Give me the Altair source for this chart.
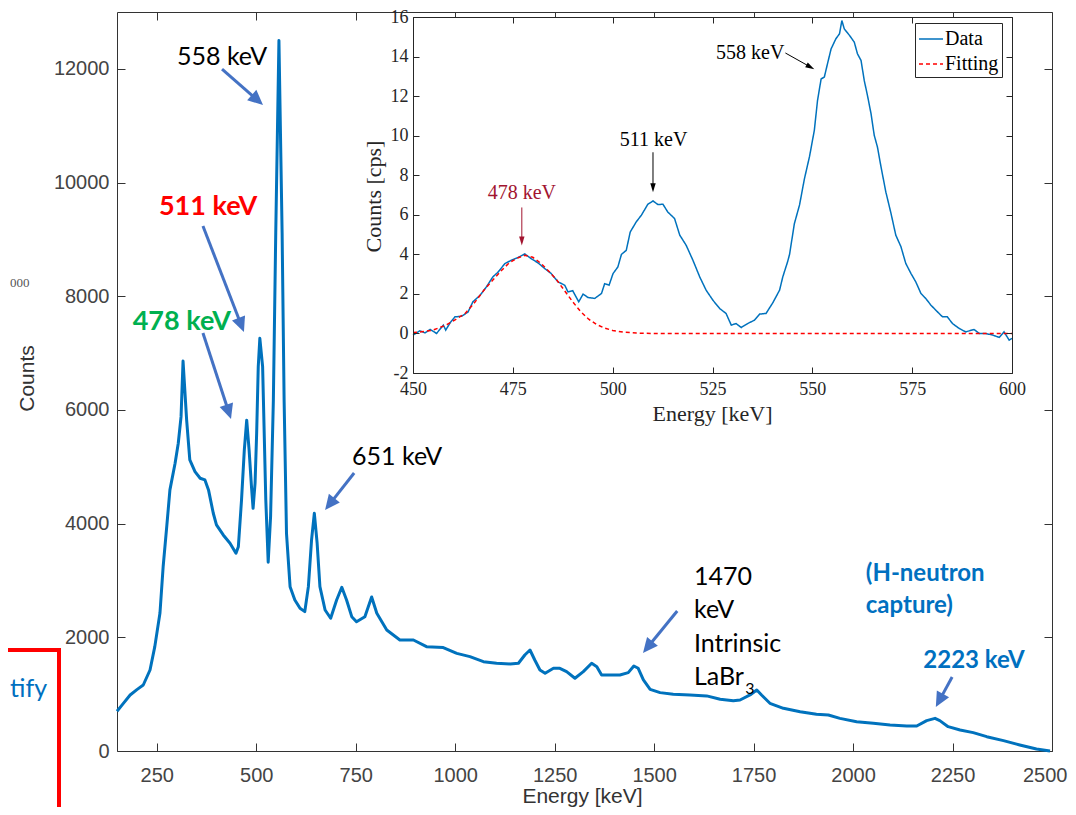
import math
import altair as alt
import pandas as pd

# ---------------- main spectrum ----------------
main_energy = [150, 165, 183, 200, 216, 233, 245, 258, 266, 275, 283, 296, 304, 311, 316,
               325, 333, 346, 359, 371, 380, 392, 400, 417, 434, 449, 455, 463, 470, 476,
               482, 488, 492, 497, 501, 505, 509, 516, 518, 524, 530, 536, 541, 543, 549,
               557, 565, 570, 576, 585, 597, 610, 622, 631, 639, 646, 653, 660, 673, 687,
               702, 715, 727, 740, 752, 773, 790, 803, 828, 861, 895, 928, 970, 1004, 1037,
               1071, 1104, 1138, 1159, 1175, 1188, 1200, 1213, 1226, 1247, 1263, 1280, 1301,
               1322, 1343, 1356, 1368, 1389, 1414, 1435, 1449, 1460, 1473, 1490, 1515, 1548,
               1590, 1632, 1666, 1699, 1716, 1741, 1758, 1770, 1791, 1825, 1867, 1908, 1938,
               1967, 2009, 2051, 2093, 2135, 2160, 2185, 2206, 2218, 2239, 2269, 2302, 2336,
               2378, 2419, 2461, 2495]
main_counts = [700, 830, 985, 1080, 1161, 1425, 1836, 2428, 3243, 3947, 4593, 5062, 5414, 5882, 6860,
               5824, 5120, 4915, 4798, 4768, 4593, 4182, 3977, 3801, 3655, 3479, 3595, 4417, 5297, 5820,
               5297, 4651, 4270, 4710, 5590, 6760, 7260, 6760, 6176, 4417, 3320, 4123, 5590, 6176, 9115,
               12500, 9115, 6176, 3830, 2891, 2657, 2511, 2452, 2891, 3713, 4182, 3655, 2891, 2481, 2335,
               2657, 2880, 2657, 2363, 2275, 2363, 2710, 2423, 2129, 1953, 1953, 1836, 1820, 1718, 1660,
               1572, 1543, 1531, 1543, 1689, 1777, 1601, 1425, 1367, 1455, 1455, 1396, 1279,
               1396, 1543, 1484, 1338, 1338, 1338, 1379, 1496, 1455, 1250, 1085, 1027, 998,
               986, 969, 910, 886, 897, 986, 1074, 986, 839, 751, 692, 645, 633,
               574, 516, 487, 457, 440, 440, 534, 574, 534, 428, 370, 323, 252,
               182, 106, 35, 0]
main_x_domain = [150, 2500]
main_y_domain = [0, 13000]
main_xticks = [250, 500, 750, 1000, 1250, 1500, 1750, 2000, 2250, 2500]
main_yticks = [0, 2000, 4000, 6000, 8000, 10000, 12000]

# ---------------- inset (zoom 450-600 keV) ----------------
inset_energy = [450.0, 451.7, 453.0, 454.3, 455.9, 457.6, 458.2, 459.3, 460.5, 462.2,
                463.8, 465.0, 466.8, 468.4, 470.0, 471.3, 473.0, 474.6, 476.3, 478.0,
                479.6, 481.3, 483.0, 484.6, 486.3, 488.0, 488.8, 490.0, 491.5, 492.6,
                493.8, 495.5, 497.2, 498.0, 499.1, 500.1, 501.3, 502.2, 503.4, 504.4,
                505.9, 507.2, 508.8, 510.1, 511.3, 512.6, 513.8, 515.5, 516.8, 518.4,
                520.1, 521.8, 523.4, 525.1, 526.8, 528.4, 529.7, 530.9, 532.2, 533.8,
                535.5, 536.8, 538.4, 540.1, 541.8, 542.6, 543.8, 544.3, 545.5, 546.8,
                548.0, 549.3, 550.5, 551.3, 552.2, 553.0, 553.8, 554.7, 555.9, 556.8,
                557.4, 558.0, 559.3, 560.5, 561.3, 562.2, 563.0, 563.8, 564.7, 565.5,
                566.3, 567.2, 568.4, 569.7, 570.9, 572.2, 573.4, 574.7, 575.9, 577.2,
                578.4, 579.7, 580.9, 582.6, 583.8, 585.1, 586.8, 588.4, 590.5, 591.8,
                593.4, 595.1, 596.8, 598.0, 599.3, 600.0]
inset_cps = [-0.09, 0.13, 0.03, 0.2, 0.0, 0.42, 0.17, 0.54, 0.84, 0.87,
             1.09, 1.6, 1.93, 2.36, 2.86, 3.1, 3.53, 3.7, 3.84, 4.02,
             3.78, 3.57, 3.28, 3.03, 2.61, 2.44, 2.1, 2.16, 1.6, 1.99,
             1.82, 1.77, 2.02, 2.52, 2.44, 3.03, 3.36, 4.0, 4.2, 5.13,
             5.64, 5.98, 6.53, 6.7, 6.52, 6.53, 6.14, 5.81, 4.97, 4.46,
             3.7, 2.86, 2.19, 1.68, 1.26, 1.01, 0.42, 0.5, 0.3, 0.5,
             0.67, 0.98, 1.01, 1.55, 2.19, 2.86, 3.62, 4.0, 5.55, 6.5,
             7.8, 8.95, 10.27, 11.78, 12.87, 12.96, 13.64, 14.39, 14.9, 15.15,
             15.82, 15.4, 15.07, 14.73, 14.14, 13.8, 12.79, 12.04, 11.11, 10.02,
             9.43, 8.42, 7.16, 6.07, 4.97, 4.38, 3.54, 3.03, 2.61, 2.02,
             1.77, 1.43, 1.18, 0.84, 0.84, 0.5, 0.25, 0.08, 0.2, 0.0,
             0.0, -0.08, -0.2, 0.08, -0.34, -0.25]
fit_energy = [450, 452, 455, 458, 460, 463, 465, 468, 470, 472, 474, 476, 478, 480, 482,
              484, 486, 488, 490, 492, 494, 496, 498, 500, 503, 506, 510, 530, 560, 600]
fit_cps = [0.05, 0.08, 0.17, 0.4, 0.62, 1.0, 1.45, 2.25, 2.7, 3.15, 3.55, 3.8, 3.95, 3.85, 3.55,
           3.15, 2.7, 2.15, 1.6, 1.1, 0.72, 0.45, 0.27, 0.15, 0.06, 0.02, 0.0, 0.0, 0.0, 0.0]
inset_x_domain = [450, 600]
inset_y_domain = [-2, 16]
inset_xticks = [450, 475, 500, 525, 550, 575, 600]
inset_yticks = [-2, 0, 2, 4, 6, 8, 10, 12, 14, 16]
legend_labels = ["Data", "Fitting"]

# ---------------- annotations (data coordinates) ----------------
main_center_text = ["558 keV", "651 keV"]
main_center_x = [414, 854]
main_center_y = [12068, 5031]
main_left_text = ["1470", "keV", "Intrinsic", "LaBr"]
main_left_x = [1600, 1600, 1600, 1600]
main_left_y = [2920, 2340, 1742, 1161]
sub_text, sub_x, sub_y = ["3"], [1729], [1000]
red_text, red_x, red_y = ["511 keV"], [379], [9429]
green_text, green_x, green_y = ["478 keV"], [313], [7406]
blue_left_text = ["(H-neutron", "capture)"]
blue_left_x = [2032, 2032]
blue_left_y = [2991, 2428]
blue_center_text, blue_center_x, blue_center_y = ["2223 keV"], [2304], [1460]

main_arrow_tail_x = [414, 366, 366, 746, 1558, 2249]
main_arrow_tail_y = [11997, 9235, 7353, 4890, 2463, 1302]
main_arrow_tip_x = [517, 469, 436.5, 673, 1472, 2208]
main_arrow_tip_y = [11364, 7371, 5840, 4240, 1724, 774]

inset_label_text = ["478 keV", "511 keV", "558 keV"]
inset_label_x = [477.25, 510.25, 543.0]
inset_label_y = [6.82, 9.5, 13.88]
inset_arrow_tail_x = [477.25, 510.1, 543.25]
inset_arrow_tail_y = [6.37, 9.16, 14.18]
inset_arrow_tip_x = [477.25, 510.1, 550.5]
inset_arrow_tip_y = [4.45, 7.14, 13.36]
inset_arrow_color = ["#A2142F", "#000000", "#000000"]

# ---------------- layout ----------------
W, H = 935, 739
INS_X_RANGE = [296, 895]
INS_Y_RANGE = [361, 5]
AXC = "#333333"
INC = "#262626"

main_x = alt.Scale(domain=main_x_domain, nice=False, zero=False)
main_y = alt.Scale(domain=main_y_domain, nice=False, zero=False)
ins_x = alt.Scale(domain=inset_x_domain, range=INS_X_RANGE, nice=False, zero=False)
ins_y = alt.Scale(domain=inset_y_domain, range=INS_Y_RANGE, nice=False, zero=False)

kx_main = W / (main_x_domain[1] - main_x_domain[0])
ky_main = H / (main_y_domain[1] - main_y_domain[0])
kx_ins = (INS_X_RANGE[1] - INS_X_RANGE[0]) / (inset_x_domain[1] - inset_x_domain[0])
ky_ins = (INS_Y_RANGE[0] - INS_Y_RANGE[1]) / (inset_y_domain[1] - inset_y_domain[0])


def tick_axis(orient, offset, values, size, color, domain, z):
    return alt.Axis(orient=orient, offset=offset, values=values, grid=False, ticks=True,
                    tickSize=size, tickColor=color, tickWidth=1, domain=domain,
                    domainColor=color, domainWidth=1, labels=False, title=None, zindex=z)


def text_layer(labels, xs, ys, xs_scale, ys_scale, **mk):
    df = pd.DataFrame({"t": labels, "x": xs, "y": ys})
    return alt.Chart(df).mark_text(baseline="alphabetic", **mk).encode(
        x=alt.X("x:Q", scale=xs_scale, axis=None),
        y=alt.Y("y:Q", scale=ys_scale, axis=None),
        text="t:N")


def arrow_layers(tx, ty, px, py, cols, xs_scale, ys_scale, kx, ky, head_len, shape, width):
    rows = []
    for a, b, c, d, col in zip(tx, ty, px, py, cols):
        dx = (c - a) * kx
        dy = -(d - b) * ky
        L = math.hypot(dx, dy)
        ux, uy = dx / L, dy / L
        rows.append(dict(x0=a, y0=b,
                         x1=c - 0.75 * head_len * ux / kx, y1=d + 0.75 * head_len * uy / ky,
                         hx=c - 0.5 * head_len * ux / kx, hy=d + 0.5 * head_len * uy / ky,
                         ang=math.degrees(math.atan2(ux, -uy)) % 360, col=col))
    df = pd.DataFrame(rows)
    shaft = alt.Chart(df).mark_rule(strokeWidth=width).encode(
        x=alt.X("x0:Q", scale=xs_scale, axis=None),
        y=alt.Y("y0:Q", scale=ys_scale, axis=None),
        x2="x1:Q", y2="y1:Q",
        stroke=alt.Stroke("col:N", scale=None))
    head = alt.Chart(df).mark_point(shape=shape, filled=True, size=head_len ** 2,
                                    opacity=1, strokeWidth=0).encode(
        x=alt.X("hx:Q", scale=xs_scale, axis=None),
        y=alt.Y("hy:Q", scale=ys_scale, axis=None),
        angle=alt.Angle("ang:Q", scale=None),
        fill=alt.Fill("col:N", scale=None))
    return [shaft, head]


main_df = pd.DataFrame({"E": main_energy, "C": main_counts})
ins_df = pd.DataFrame({"E": inset_energy, "V": inset_cps, "series": legend_labels[0]})
fit_df = pd.DataFrame({"E": fit_energy, "V": fit_cps, "series": legend_labels[1]})

layers = []

# ---------------- main panel ----------------
ax_main_bottom = alt.Axis(orient="bottom", values=main_xticks, format="d", grid=False, ticks=False,
                          tickSize=0, domain=True, domainColor=AXC, domainWidth=1,
                          labelFont="Liberation Sans", labelFontSize=20, labelColor="#444444",
                          labelPadding=14, labelFlush=True, labelFlushOffset=15,
                          labelOverlap=False, labelBound=False,
                          title="Energy [keV]", titleFont="Liberation Sans", titleFontSize=21,
                          titleFontWeight="normal", titleColor="#333333", titleX=465, titleY=45,
                          titleAlign="center", titleBaseline="middle", zindex=0)
ax_main_left = alt.Axis(orient="left", values=main_yticks, format="d", grid=False, ticks=False,
                        tickSize=0, domain=True, domainColor=AXC, domainWidth=1,
                        labelFont="Liberation Sans", labelFontSize=20, labelColor="#444444",
                        labelPadding=8, labelOverlap=False, labelBound=False, labelFlush=False,
                        title="Counts", titleFont="Liberation Sans", titleFontSize=21,
                        titleFontWeight="normal", titleColor="#333333", titleAngle=270,
                        titleX=-90, titleY=366, titleAlign="center", titleBaseline="middle", zindex=0)

layers.append(alt.Chart(main_df).mark_line(color="#0072BD", strokeWidth=3, strokeJoin="round").encode(
    x=alt.X("E:Q", scale=main_x, axis=ax_main_bottom),
    y=alt.Y("C:Q", scale=main_y, axis=ax_main_left)))
layers.append(alt.Chart(main_df).mark_line(opacity=0).encode(
    x=alt.X("E:Q", scale=main_x, axis=tick_axis("top", -H, main_xticks, 8, AXC, False, 0)),
    y=alt.Y("C:Q", scale=main_y, axis=tick_axis("right", -W, main_yticks, 8, AXC, False, 0))))
layers.append(alt.Chart(main_df).mark_line(opacity=0).encode(
    x=alt.X("E:Q", scale=main_x, axis=tick_axis("bottom", -H, main_xticks, 8, AXC, True, 0)),
    y=alt.Y("C:Q", scale=main_y, axis=tick_axis("left", -W, main_yticks, 8, AXC, True, 0))))

layers.append(text_layer(main_center_text, main_center_x, main_center_y, main_x, main_y,
                         align="center", font="Lato", fontSize=25, color="#000000"))
layers.append(text_layer(main_left_text, main_left_x, main_left_y, main_x, main_y,
                         align="left", font="Lato", fontSize=25, color="#000000"))
layers.append(text_layer(sub_text, sub_x, sub_y, main_x, main_y,
                         align="left", font="Lato", fontSize=16, color="#000000"))
layers.append(text_layer(red_text, red_x, red_y, main_x, main_y, align="center", font="Lato",
                         fontSize=27, fontWeight="bold", color="#FF0000"))
layers.append(text_layer(green_text, green_x, green_y, main_x, main_y, align="center",
                         font="Lato", fontSize=27, fontWeight="bold", color="#00B050"))
layers.append(text_layer(blue_left_text, blue_left_x, blue_left_y, main_x, main_y,
                         align="left", font="Lato", fontSize=24, fontWeight="bold",
                         color="#0070C0"))
layers.append(text_layer(blue_center_text, blue_center_x, blue_center_y, main_x, main_y,
                         align="center", font="Lato", fontSize=24, fontWeight="bold",
                         color="#0070C0"))
layers += arrow_layers(main_arrow_tail_x, main_arrow_tail_y, main_arrow_tip_x, main_arrow_tip_y,
                       ["#4472C4"] * len(main_arrow_tail_x), main_x, main_y, kx_main, ky_main,
                       15, "M0,-1L-0.93,1L0.93,1Z", 3)

# ---------------- inset panel ----------------
bg_df = pd.DataFrame({"x0": [inset_x_domain[0]], "x1": [inset_x_domain[1]],
                      "y0": [inset_y_domain[0]], "y1": [inset_y_domain[1]]})
layers.append(alt.Chart(bg_df).mark_rect(color="white").encode(
    x=alt.X("x0:Q", scale=ins_x, axis=None), x2="x1:Q",
    y=alt.Y("y0:Q", scale=ins_y, axis=None), y2="y1:Q"))

leg = alt.Legend(title=None, orient="none", legendX=798, legendY=11, symbolType="stroke",
                 symbolSize=576, symbolStrokeWidth=1.5, labelFont="Liberation Serif",
                 labelFontSize=20, labelColor="#000000", strokeColor=INC, fillColor="white",
                 padding=3, rowPadding=2, labelOffset=1, zindex=2)
col_scale = alt.Scale(domain=legend_labels, range=["#0072BD", "#FF0000"])
dash_scale = alt.Scale(domain=legend_labels, range=[[1, 0], [4, 3]])

ax_ins_bottom = alt.Axis(orient="bottom", offset=INS_Y_RANGE[0] - H, values=inset_xticks, format="d",
                         grid=False, ticks=False, tickSize=0, domain=True, domainColor=INC,
                         domainWidth=1, labelFont="Liberation Serif", labelFontSize=18,
                         labelColor=INC, labelPadding=7, labelFlush=False, labelOverlap=False,
                         labelBound=False, title="Energy [keV]", titleFont="Liberation Serif",
                         titleFontSize=22, titleFontWeight="normal", titleColor=INC, titleX=595,
                         titleY=40, titleAlign="center", titleBaseline="middle", zindex=1)
ax_ins_left = alt.Axis(orient="left", offset=-INS_X_RANGE[0], values=inset_yticks,
                       labelExpr="'' + datum.value", grid=False, ticks=False, tickSize=0,
                       domain=True, domainColor=INC, domainWidth=1, labelFont="Liberation Serif",
                       labelFontSize=18, labelColor=INC, labelPadding=5, labelOverlap=False,
                       labelBound=False, labelFlush=False, title="Counts [cps]",
                       titleFont="Liberation Serif", titleFontSize=22, titleFontWeight="normal",
                       titleColor=INC, titleAngle=270, titleX=-40, titleY=184, titleAlign="center",
                       titleBaseline="middle", zindex=1)

layers.append(alt.Chart(ins_df).mark_line(strokeWidth=1.5).encode(
    x=alt.X("E:Q", scale=ins_x, axis=ax_ins_bottom),
    y=alt.Y("V:Q", scale=ins_y, axis=ax_ins_left),
    color=alt.Color("series:N", scale=col_scale, legend=leg),
    strokeDash=alt.StrokeDash("series:N", scale=dash_scale, legend=leg)))
layers.append(alt.Chart(fit_df).mark_line(strokeWidth=1.5).encode(
    x=alt.X("E:Q", scale=ins_x, axis=None),
    y=alt.Y("V:Q", scale=ins_y, axis=None),
    color=alt.Color("series:N", scale=col_scale, legend=leg),
    strokeDash=alt.StrokeDash("series:N", scale=dash_scale, legend=leg)))
layers.append(alt.Chart(ins_df).mark_line(opacity=0).encode(
    x=alt.X("E:Q", scale=ins_x,
            axis=tick_axis("top", -INS_Y_RANGE[0], inset_xticks, 6, INC, False, 1)),
    y=alt.Y("V:Q", scale=ins_y,
            axis=tick_axis("right", INS_X_RANGE[0] - W, inset_yticks, 6, INC, False, 1))))
layers.append(alt.Chart(ins_df).mark_line(opacity=0).encode(
    x=alt.X("E:Q", scale=ins_x,
            axis=tick_axis("bottom", INS_Y_RANGE[1] - H, inset_xticks, 6, INC, True, 1)),
    y=alt.Y("V:Q", scale=ins_y,
            axis=tick_axis("left", -INS_X_RANGE[1], inset_yticks, 6, INC, True, 1))))

layers.append(text_layer(inset_label_text[:1], inset_label_x[:1], inset_label_y[:1], ins_x, ins_y,
                         align="center", font="Liberation Serif", fontSize=20, color="#A2142F"))
layers.append(text_layer(inset_label_text[1:2], inset_label_x[1:2], inset_label_y[1:2], ins_x,
                         ins_y, align="center", font="Liberation Serif", fontSize=20,
                         color="#000000"))
layers.append(text_layer(inset_label_text[2:], inset_label_x[2:], inset_label_y[2:], ins_x, ins_y,
                         align="right", font="Liberation Serif", fontSize=20, color="#000000"))
layers += arrow_layers(inset_arrow_tail_x, inset_arrow_tail_y, inset_arrow_tip_x,
                       inset_arrow_tip_y, inset_arrow_color, ins_x, ins_y, kx_ins, ky_ins,
                       9, "M0,-1L-0.6,1L0.6,1Z", 1)

# ---------------- slide leftovers around the figure ----------------
one = pd.DataFrame({"k": [0]})
layers.append(alt.Chart(one).mark_rect(fillOpacity=0, stroke="#FF0000", strokeWidth=4).encode(
    x=alt.value(-140), x2=alt.value(-58), y=alt.value(638), y2=alt.value(840)))
layers.append(alt.Chart(one).mark_text(text="tify", align="left", baseline="alphabetic", font="Lato",
                                       fontSize=25, color="#0070C0").encode(
    x=alt.value(-107), y=alt.value(685)))
layers.append(alt.Chart(one).mark_text(text="000", align="left", baseline="alphabetic",
                                       font="Liberation Serif", fontSize=13, color="#555555").encode(
    x=alt.value(-107), y=alt.value(275)))

chart = alt.layer(*layers).resolve_scale(x="independent", y="independent").properties(
    width=W, height=H,
    autosize=alt.AutoSizeParams(type="none"),
    padding={"left": 109, "top": 4, "right": 16, "bottom": 56},
    background="white",
).configure_view(stroke=None)

chart.save("out.html", embed_options={"renderer": "svg", "actions": False})
